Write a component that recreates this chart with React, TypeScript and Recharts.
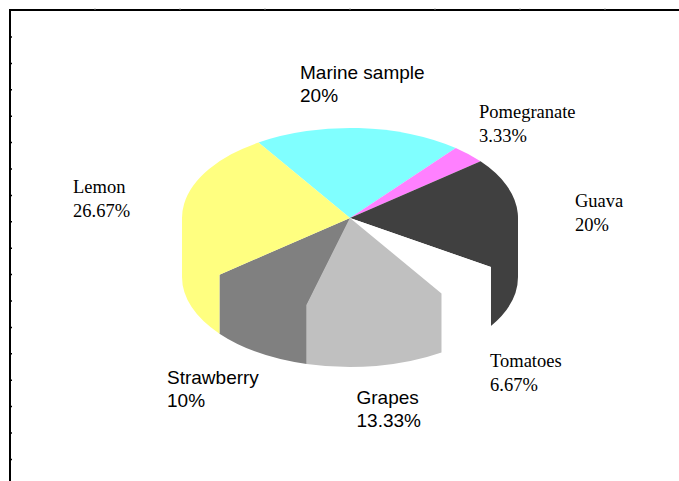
import { PieChart, Pie } from "recharts";

const fruits = ["Marine sample", "Pomegranate", "Guava", "Tomatoes", "Grapes", "Strawberry", "Lemon"];
const shares = [20, 3.33, 20, 6.67, 13.33, 10, 26.67];
const colors = ["#80ffff", "#ff80ff", "#404040", "#ffffff", "#c0c0c0", "#808080", "#ffff80"];

// label anchors and families follow the slice order
const labelX = [300, 479, 575, 490, 356.5, 167, 73];
const labelY = [79, 118, 207, 367, 404, 384, 193];
const labelFonts = ["sans", "serif", "serif", "serif", "sans", "sans", "serif"];

const chartData = fruits.map((name, i) => ({ name, value: shares[i], fill: colors[i] }));

const WIDTH = 679;
const HEIGHT = 481;
const CX = 350;
const CY = 218;
const RX = 168;
const RY = 90;
const DEPTH = 59;

const rad = (deg: number) => (deg * Math.PI) / 180;
const rimX = (deg: number) => CX + RX * Math.cos(rad(deg));
const rimY = (deg: number) => CY - RY * Math.sin(rad(deg));

// flattened sector plus the part of the side wall facing the viewer
function Slice3D({ startAngle, endAngle, fill }: any) {
  const hi = Math.max(startAngle, endAngle);
  const lo = Math.min(startAngle, endAngle);
  const large = hi - lo > 180 ? 1 : 0;
  let d = `M${CX},${CY} L${rimX(hi)},${rimY(hi)} A${RX},${RY} 0 ${large} 1 ${rimX(lo)},${rimY(lo)} Z`;

  const wallHi = Math.min(hi, 0);
  const wallLo = Math.max(lo, -180);
  if (wallLo < wallHi) {
    // the wall's top edge is a chord under the sector, so the rim leaves no seam
    d +=
      ` M${rimX(wallHi)},${rimY(wallHi)} L${rimX(wallHi)},${rimY(wallHi) + DEPTH}` +
      ` A${RX},${RY} 0 0 1 ${rimX(wallLo)},${rimY(wallLo) + DEPTH} L${rimX(wallLo)},${rimY(wallLo)} Z`;
  }
  return <path d={d} fill={fill} stroke="none" />;
}

function SliceLabel({ index, name, value }: any) {
  const sans = labelFonts[index] === "sans";
  return (
    <text
      x={labelX[index]}
      y={labelY[index]}
      fontFamily={sans ? "Liberation Sans" : "Liberation Serif"}
      fontSize={sans ? 19 : 18.5}
      fill="#000"
    >
      <tspan x={labelX[index]}>{name}</tspan>
      <tspan x={labelX[index]} dy={sans ? 23 : 24}>{`${value}%`}</tspan>
    </text>
  );
}

const topTicks = Array.from({ length: 7 }, (_, i) => 95 + i * 85);
const leftTicks = Array.from({ length: 17 }, (_, i) => 37 + i * 26.4);

function Frame() {
  return (
    <g>
      <path d={`M10,${HEIGHT} L10,10 L${WIDTH},10`} fill="none" stroke="#000" strokeWidth={2} />
      {topTicks.map((x) => (
        <line key={x} x1={x} x2={x} y1={8.5} y2={10} stroke="#777" strokeWidth={1} />
      ))}
      {leftTicks.map((y) => (
        <line key={y} x1={10} x2={12} y1={y} y2={y} stroke="#000" strokeWidth={1.5} />
      ))}
    </g>
  );
}

export default function App() {
  return (
    <div style={{ position: "absolute", left: 0, top: 0, width: WIDTH, height: HEIGHT, background: "#fff" }}>
      <PieChart width={WIDTH} height={HEIGHT} margin={{ top: 0, right: 0, bottom: 0, left: 0 }}>
        <Frame />
        <Pie
          data={chartData}
          dataKey="value"
          nameKey="name"
          cx={CX}
          cy={CY}
          innerRadius={0}
          outerRadius={RX}
          startAngle={123}
          endAngle={-237}
          stroke="none"
          shape={Slice3D}
          label={SliceLabel}
          labelLine={false}
          isAnimationActive={false}
        />
      </PieChart>
    </div>
  );
}
